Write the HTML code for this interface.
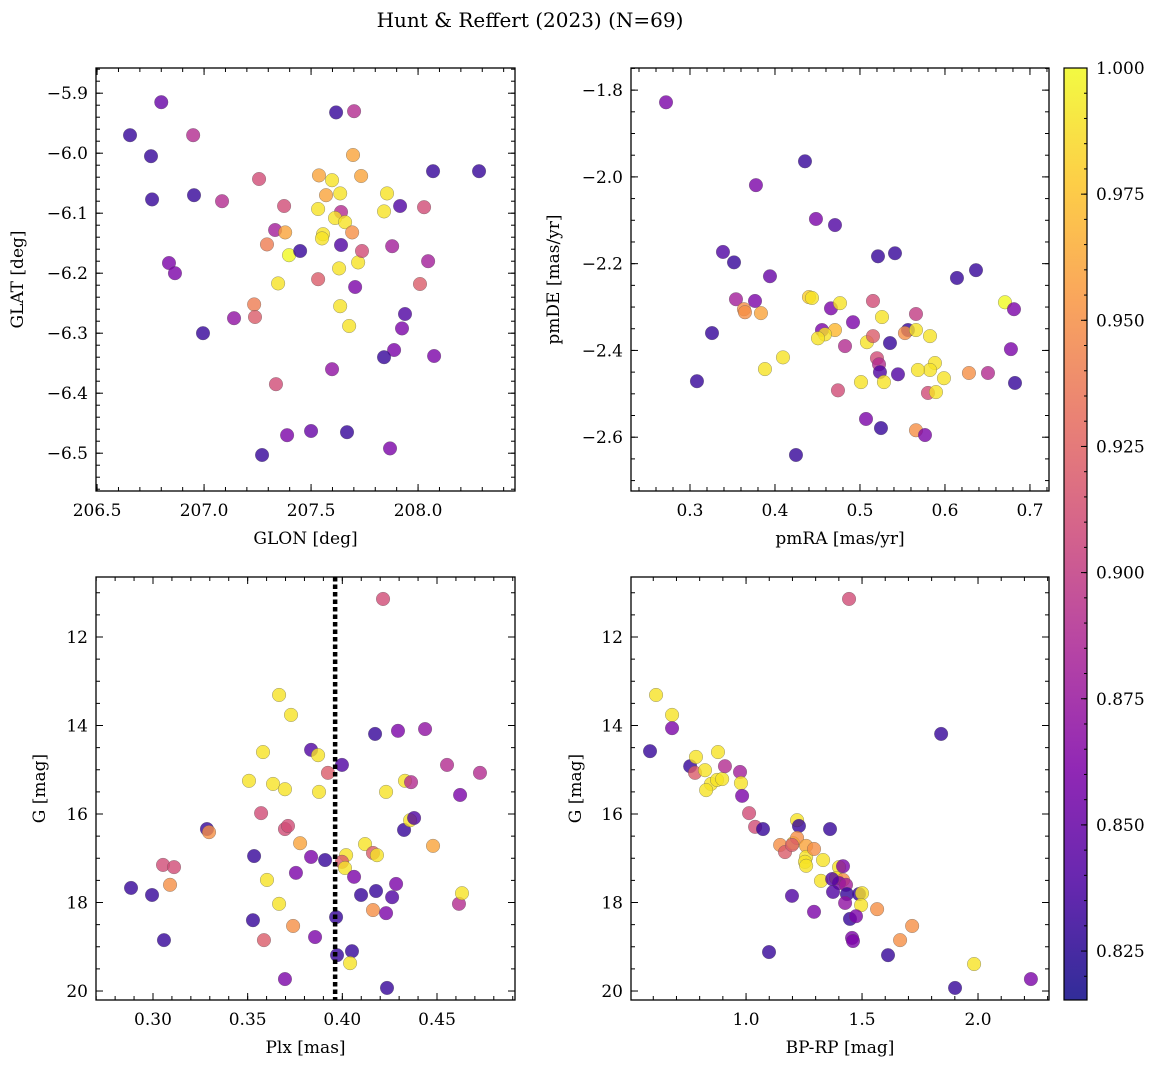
<!DOCTYPE html>
<html><head><meta charset="utf-8"><style>
body{margin:0;background:#fff;}
svg{display:block;font-family:"DejaVu Serif","Liberation Serif",serif;}
</style></head><body>
<svg id="fig" width="1161" height="1067" viewBox="0 0 1161 1067" xmlns="http://www.w3.org/2000/svg">
<defs>
<linearGradient id="plasma" x1="0" y1="1" x2="0" y2="0">
<stop offset="0" stop-color="#0d0887"/><stop offset="0.125" stop-color="#4c02a1"/><stop offset="0.25" stop-color="#7e03a8"/><stop offset="0.375" stop-color="#a92395"/><stop offset="0.5" stop-color="#cc4778"/><stop offset="0.625" stop-color="#e66c5c"/><stop offset="0.75" stop-color="#f89540"/><stop offset="0.875" stop-color="#fdc527"/><stop offset="1" stop-color="#f0f921"/>
</linearGradient>
</defs>
<text x="530" y="27" text-anchor="middle" font-size="20">Hunt &amp; Reffert (2023) (N=69)</text>
</svg>
<script>
// Panel 1: GLON / GLAT
const glon=[206.80,206.654,206.752,206.949,206.757,206.953,207.084,206.836,206.864,206.995,207.140,207.257,207.234,207.238,207.294,207.332,207.346,207.374,207.379,207.397,207.336,207.388,207.449,207.500,207.537,207.570,207.533,207.598,207.636,207.617,207.701,207.696,207.734,207.640,207.612,207.659,207.556,207.551,207.640,207.631,207.533,207.636,207.678,207.598,207.668,207.692,207.720,207.706,207.738,207.855,207.841,207.916,207.879,207.939,207.925,207.888,207.841,207.869,208.028,208.009,208.047,208.070,208.075,208.285,207.271];
const glat=[-5.915,-5.970,-6.005,-5.970,-6.077,-6.070,-6.080,-6.183,-6.200,-6.300,-6.275,-6.043,-6.252,-6.273,-6.152,-6.128,-6.217,-6.088,-6.132,-6.170,-6.385,-6.470,-6.163,-6.463,-6.037,-6.070,-6.093,-6.045,-6.067,-5.932,-5.930,-6.003,-6.038,-6.098,-6.108,-6.115,-6.135,-6.142,-6.153,-6.192,-6.210,-6.255,-6.288,-6.360,-6.465,-6.132,-6.182,-6.223,-6.163,-6.067,-6.097,-6.088,-6.155,-6.268,-6.292,-6.328,-6.340,-6.492,-6.090,-6.218,-6.180,-6.030,-6.338,-6.030,-6.503];
const prob1=[.85,.83,.83,.89,.83,.83,.89,.86,.86,.83,.87,.91,.94,.92,.94,.88,.99,.91,.96,1.0,.91,.86,.83,.85,.96,.96,.99,.99,.99,.83,.89,.96,.96,.89,.99,.99,.99,.99,.84,.99,.92,.99,.99,.87,.83,.95,.99,.86,.91,.99,.99,.84,.88,.84,.86,.86,.83,.86,.91,.92,.88,.83,.86,.83,.83];
// Panel 2: pmRA / pmDE
const pmra=[0.2718,0.4353,0.3776,0.4482,0.4706,0.3388,0.3518,0.3941,0.5212,0.5412,0.6141,0.6365,0.6706,0.6812,0.6776,0.6824,0.3541,0.3635,0.3647,0.3835,0.3765,0.44,0.4435,0.4659,0.4765,0.4918,0.4553,0.4706,0.4588,0.4506,0.4824,0.5082,0.5153,0.5259,0.5153,0.52,0.5224,0.5235,0.5353,0.5565,0.5529,0.5659,0.5659,0.5824,0.5882,0.5824,0.5988,0.58,0.5894,0.5447,0.5682,0.5282,0.5012,0.4741,0.5071,0.5247,0.5659,0.5765,0.6282,0.6506,0.4247,0.3082,0.3259,0.4094,0.3882];
const pmde=[-1.828,-1.964,-2.019,-2.097,-2.111,-2.173,-2.197,-2.229,-2.183,-2.176,-2.233,-2.215,-2.289,-2.305,-2.397,-2.475,-2.282,-2.305,-2.312,-2.314,-2.286,-2.277,-2.279,-2.303,-2.291,-2.335,-2.353,-2.353,-2.363,-2.372,-2.390,-2.381,-2.286,-2.323,-2.367,-2.418,-2.432,-2.450,-2.383,-2.353,-2.360,-2.316,-2.353,-2.367,-2.429,-2.445,-2.464,-2.498,-2.496,-2.455,-2.445,-2.473,-2.473,-2.492,-2.558,-2.579,-2.584,-2.595,-2.452,-2.452,-2.641,-2.471,-2.360,-2.416,-2.443];
const prob2=[.86,.83,.86,.86,.84,.84,.83,.85,.83,.83,.83,.83,1.0,.86,.86,.83,.88,.95,.95,.96,.86,.98,.99,.86,.99,.86,.86,.97,.99,.99,.89,.99,.91,.99,.92,.91,.89,.84,.83,.83,.95,.90,.99,.99,.99,.99,.99,.91,.99,.84,.99,.99,.99,.91,.86,.83,.95,.86,.95,.89,.83,.83,.83,.99,.99];
// Panel 3: Plx / G
const plx=[0.4215,0.3666,0.3729,0.3835,0.3872,0.3998,0.4294,0.4437,0.4173,0.3507,0.3581,0.3634,0.3697,0.3877,0.3924,0.4331,0.4231,0.4363,0.4553,0.4622,0.4727,0.3571,0.3697,0.3713,0.3285,0.3296,0.3777,0.3835,0.402,0.3998,0.4014,0.412,0.4162,0.4183,0.4326,0.4358,0.4379,0.4479,0.3053,0.3111,0.3534,0.3602,0.3909,0.4062,0.4284,0.309,0.2884,0.2995,0.4099,0.4178,0.4263,0.4162,0.3666,0.4616,0.4632,0.4231,0.3528,0.374,0.3856,0.3058,0.3586,0.3967,0.3972,0.4051,0.4041,0.3697,0.4236,0.3755];
const gmag3=[11.14,13.31,13.76,14.55,14.67,14.89,14.12,14.08,14.19,15.25,14.60,15.32,15.44,15.50,15.07,15.25,15.50,15.28,14.89,15.57,15.07,15.98,16.34,16.27,16.34,16.41,16.66,16.97,16.93,17.08,17.22,16.68,16.88,16.93,16.36,16.14,16.09,16.72,17.15,17.20,16.95,17.49,17.04,17.42,17.58,17.60,17.67,17.83,17.83,17.74,17.88,18.17,18.03,18.03,17.79,18.24,18.40,18.53,18.78,18.85,18.85,18.33,19.19,19.10,19.37,19.73,19.93,17.33];
const prob3=[.91,.99,.99,.84,.99,.84,.86,.87,.83,.99,.99,.99,.99,.99,.92,.99,.99,.89,.89,.86,.89,.91,.91,.91,.83,.95,.96,.86,.99,.92,.99,.99,.92,.99,.83,.99,.84,.96,.91,.91,.83,.99,.83,.86,.86,.95,.83,.83,.83,.83,.84,.95,.99,.89,.99,.86,.83,.95,.86,.83,.92,.83,.83,.83,.99,.86,.83,.86];
// Panel 4: BP-RP / G
const bprp=[1.444,0.612,0.681,0.681,0.586,0.759,0.780,0.784,0.879,0.823,0.849,0.875,0.828,0.897,0.909,0.974,0.978,0.983,1.013,1.039,1.073,1.147,1.168,1.220,1.228,1.203,1.220,1.259,1.259,1.254,1.259,1.198,1.293,1.332,1.323,1.362,1.401,1.388,1.418,1.418,1.401,1.431,1.371,1.375,1.435,1.427,1.487,1.5,1.496,1.448,1.474,1.457,1.461,1.565,1.198,1.293,1.664,1.716,1.099,1.612,1.983,1.901,2.228,1.841];
const gmag4=[11.14,13.31,13.76,14.06,14.58,14.92,15.07,14.71,14.60,15.01,15.32,15.23,15.46,15.21,14.92,15.05,15.30,15.59,15.98,16.29,16.34,16.70,16.86,16.14,16.27,16.66,16.54,16.72,16.97,17.08,17.17,16.70,16.79,17.04,17.51,16.34,17.20,17.45,17.18,17.49,17.56,17.60,17.47,17.76,17.81,18.01,17.81,17.79,18.06,18.37,18.31,18.80,18.87,18.15,17.85,18.21,18.85,18.53,19.12,19.19,19.39,19.93,19.73,14.19];
const prob4=[.91,.99,.99,.86,.83,.83,.92,.99,.99,.99,.99,.99,.99,.99,.89,.88,.99,.86,.91,.91,.83,.95,.92,.99,.83,.99,.95,.96,.99,.99,.99,.92,.95,.99,.99,.83,.99,.99,.86,.95,.86,.88,.84,.84,.83,.87,.83,.99,.99,.83,.86,.86,.86,.95,.84,.86,.95,.95,.83,.83,.99,.83,.86,.83];
const cbTicks=[0.825,0.850,0.875,0.900,0.925,0.950,0.975,1.000];

const NS='http://www.w3.org/2000/svg';
const svg=document.getElementById('fig');
function mk(tag,attrs,parent){const e=document.createElementNS(NS,tag);for(const k in attrs)e.setAttribute(k,attrs[k]);(parent||svg).appendChild(e);return e;}
const stops=[[0,[13,8,135]],[0.125,[76,2,161]],[0.25,[126,3,168]],[0.375,[169,35,149]],[0.5,[204,71,120]],[0.625,[230,108,92]],[0.75,[248,149,64]],[0.875,[253,197,39]],[1,[240,249,33]]];
const CMIN=0.8153,CMAX=1.0;
function cmap(v){let t=(v-CMIN)/(CMAX-CMIN);t=Math.max(0,Math.min(1,t));for(let i=1;i<stops.length;i++){if(t<=stops[i][0]){const a=stops[i-1],b=stops[i];const f=(t-a[0])/(b[0]-a[0]);const c=a[1].map((x,j)=>Math.round(x+(b[1][j]-x)*f));return `rgb(${c})`;}}return 'rgb(240,249,33)';}
function fmt(v,d){return (v<0?'\u2212':'')+Math.abs(v).toFixed(d);}
const FS=17;

function panel(cfg){
  const {name,px,py,pw,ph,xd,yd,xmaj,xmin,ymaj,ymin,xdec,ydec,xlab,ylab,ylabx,xs,ys,cs,yinv}=cfg;
  const g=mk('g',{});
  
  
  const sx=v=>px+(v-xd[0])/(xd[1]-xd[0])*pw;
  const sy=yinv?(v=>py+(v-yd[0])/(yd[1]-yd[0])*ph):(v=>py+ph-(v-yd[0])/(yd[1]-yd[0])*ph);
  const pts=mk('g',{},g);
  
  
  for(let i=0;i<xs.length;i++){
    const c=mk('circle',{cx:sx(xs[i]),cy:sy(ys[i]),r:6.8,fill:cmap(cs[i]),'fill-opacity':0.8,stroke:'#555','stroke-width':0.5,'stroke-opacity':0.6},pts);
    
    
  }
  if(cfg.extra)cfg.extra(g,sx,sy);
  const fr=mk('rect',{x:px,y:py,width:pw,height:ph,fill:'none',stroke:'#000','stroke-width':1.3},g);
  
  
  const eps=1e-9;
  function ticks(step,len,isX,labels,dec){
    const d=isX?xd:yd;const lo=Math.min(d[0],d[1]),hi=Math.max(d[0],d[1]);
    for(let k=Math.ceil(lo/step-eps);k*step<=hi+eps;k++){
      const v=k*step;
      if(isX){const x=sx(v);
        mk('line',{x1:x,x2:x,y1:py+ph,y2:py+ph-len,stroke:'#000','stroke-width':1},g);
        mk('line',{x1:x,x2:x,y1:py,y2:py+len,stroke:'#000','stroke-width':1},g);
        if(labels){const t=mk('text',{x:x,y:py+ph+25,'text-anchor':'middle','font-size':FS},g);t.textContent=fmt(v,dec);
          
          }
      }else{const y=sy(v);
        mk('line',{x1:px,x2:px+len,y1:y,y2:y,stroke:'#000','stroke-width':1},g);
        mk('line',{x1:px+pw,x2:px+pw-len,y1:y,y2:y,stroke:'#000','stroke-width':1},g);
        if(labels){const t=mk('text',{x:px-8,y:y+6,'text-anchor':'end','font-size':FS},g);t.textContent=fmt(v,dec);
          
          }
      }
    }
  }
  ticks(xmin,4,true,false);ticks(xmaj,7,true,true,xdec);
  ticks(ymin,4,false,false);ticks(ymaj,7,false,true,ydec);
  const xl=mk('text',{x:px+pw/2,y:py+ph+53,'text-anchor':'middle','font-size':FS},g);xl.textContent=xlab;
  
  
  const yl=mk('text',{x:ylabx,y:py+ph/2,'text-anchor':'middle','font-size':FS,transform:`rotate(-90 ${ylabx} ${py+ph/2})`},g);yl.textContent=ylab;
  
  
}
panel({name:'glon-glat-panel',px:96,py:68,pw:419,ph:423,xd:[206.495,208.453],yd:[-6.563,-5.858],xmaj:0.5,xmin:0.1,ymaj:0.1,ymin:0.02,xdec:1,ydec:1,xlab:'GLON [deg]',ylab:'GLAT [deg]',ylabx:23,xs:glon,ys:glat,cs:prob1});
panel({name:'proper-motion-panel',px:631,py:68,pw:418,ph:423,xd:[0.2306,0.7224],yd:[-2.724,-1.749],xmaj:0.1,xmin:0.02,ymaj:0.2,ymin:0.05,xdec:1,ydec:1,xlab:'pmRA [mas/yr]',ylab:'pmDE [mas/yr]',ylabx:559,xs:pmra,ys:pmde,cs:prob2});
panel({name:'parallax-g-panel',px:96,py:577,pw:419,ph:423,xd:[0.2699,0.4912],yd:[10.644,20.203],yinv:true,xmaj:0.05,xmin:0.01,ymaj:2,ymin:0.5,xdec:2,ydec:0,xlab:'Plx [mas]',ylab:'G [mag]',ylabx:45,xs:plx,ys:gmag3,cs:prob3,
  extra:(g,sx,sy)=>{const l=mk('line',{x1:sx(0.3962),x2:sx(0.3962),y1:577,y2:1000,stroke:'#000','stroke-width':4.5,'stroke-dasharray':'4.5 3'},g);
    
    }});
panel({name:'cmd-panel',px:631,py:577,pw:418,ph:423,xd:[0.504,2.306],yd:[10.644,20.203],yinv:true,xmaj:0.5,xmin:0.1,ymaj:2,ymin:0.5,xdec:1,ydec:0,xlab:'BP-RP [mag]',ylab:'G [mag]',ylabx:581,xs:bprp,ys:gmag4,cs:prob4});

// colorbar
const cb=mk('g',{});


const cbx=1064,cby=68,cbw=23,cbh=932;
mk('rect',{x:cbx,y:cby,width:cbw,height:cbh,fill:'url(#plasma)','fill-opacity':0.85,stroke:'#000','stroke-width':1.2},cb);
const cys=v=>cby+cbh-(v-CMIN)/(CMAX-CMIN)*cbh;
for(let v=0.82;v<=1.0001;v+=0.005){const y=cys(v);if(y<cby-0.5||y>cby+cbh+0.5)continue;mk('line',{x1:cbx+cbw,x2:cbx+cbw-3,y1:y,y2:y,stroke:'#000'},cb);}
cbTicks.forEach(v=>{const y=cys(v);mk('line',{x1:cbx+cbw,x2:cbx+cbw-6,y1:y,y2:y,stroke:'#000'},cb);
  const t=mk('text',{x:cbx+cbw+9,y:y+6,'font-size':FS},cb);t.textContent=v.toFixed(3);
  
  });
</script>
</body></html>
